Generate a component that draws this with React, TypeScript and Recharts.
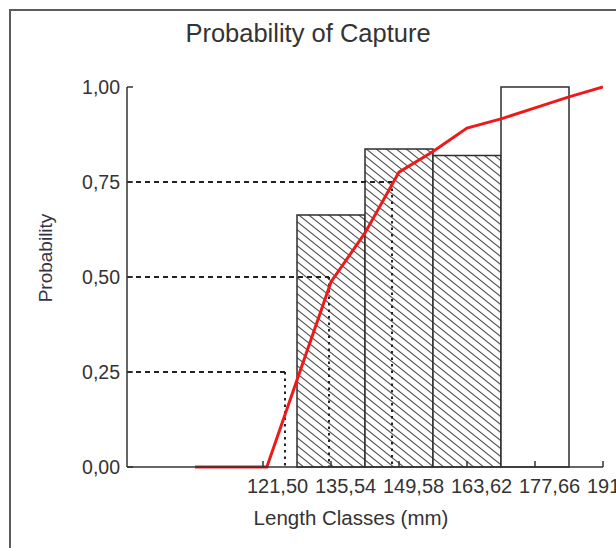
import React from 'react';
import { ComposedChart, XAxis, YAxis, Line, ReferenceArea, ReferenceLine, Label } from 'recharts';

// ---- data ----
const lengthTicks = [121.5, 135.54, 149.58, 163.62, 177.66, 191.7];
const lengthTickLabels = ['121,50', '135,54', '149,58', '163,62', '177,66', '191,70'];
const probTicks = [0, 0.25, 0.5, 0.75, 1];
const probTickLabels = ['0,00', '0,25', '0,50', '0,75', '1,00'];

const classLower = [128.52, 142.56, 156.6, 170.64];
const classUpper = [142.56, 156.6, 170.64, 184.68];
const classProb = [0.663, 0.837, 0.82, 1.0];
const classHatched = [true, true, true, false];

const curveLength = [107.46, 122.3, 128.52, 135.54, 142.56, 149.58, 156.6, 163.62, 170.64, 177.66, 184.68, 191.7];
const curveProb = [0, 0, 0.229, 0.487, 0.616, 0.776, 0.83, 0.892, 0.916, 0.945, 0.974, 1.0];

const percentileProb = [0.25, 0.5, 0.75];
const percentileLength = [126.04, 135.13, 148.14];

const xDomain: [number, number] = [93.42, 191.7];

const curveData = curveLength.map((x, i) => ({ x, p: curveProb[i] }));

const FONT = '"Liberation Sans", Arial, sans-serif';
const INK = '#333333';

const XTick = (props: any) => {
  const { x, y, index, payload } = props;
  let i = typeof index === 'number' ? index : lengthTicks.indexOf(payload.value);
  const label = lengthTickLabels[i] ?? String(payload.value);
  return (
    <g>
      <line x1={x} y1={y} x2={x} y2={y - 6} stroke={INK} strokeWidth={1.5} />
      <text x={x - 16} y={y + 26} textAnchor="start" fontSize={20} fill={INK} fontFamily={FONT}>
        {label}
      </text>
    </g>
  );
};

const YTick = (props: any) => {
  const { x, y, index, payload } = props;
  let i = typeof index === 'number' ? index : probTicks.indexOf(payload.value);
  const label = probTickLabels[i] ?? String(payload.value);
  return (
    <g>
      <line x1={x} y1={y} x2={x + 6} y2={y} stroke={INK} strokeWidth={1.5} />
      <text x={x - 7} y={y} dy="0.36em" textAnchor="end" fontSize={19.5} fill={INK} fontFamily={FONT}>
        {label}
      </text>
    </g>
  );
};

const YTitle = () => (
  <g>
    <text
      x={45}
      y={258}
      dy="0.35em"
      transform="rotate(-90, 45, 258)"
      textAnchor="middle"
      fontSize={19}
      fill="#333344"
      fontFamily={FONT}
    >
      Probability
    </text>
    <text x={308} y={42} textAnchor="middle" fontSize={25.5} fill={INK} fontFamily={FONT}>
      Probability of Capture
    </text>
  </g>
);

const XTitle = () => (
  <text x={351} y={525} textAnchor="middle" fontSize={20.5} fill={INK} fontFamily={FONT}>
    Length Classes (mm)
  </text>
);

export default function App() {
  return (
    <div
      style={{
        position: 'absolute',
        left: 0,
        top: 0,
        width: 616,
        height: 548,
        overflow: 'hidden',
        background: '#ffffff',
      }}
    >
      <div
        style={{
          position: 'absolute',
          left: 9,
          top: 9,
          width: 800,
          height: 800,
          borderLeft: '2px solid #5c5c5c',
          borderTop: '2px solid #5c5c5c',
        }}
      />
      <div style={{ position: 'absolute', left: 0, top: 0 }}>
        <ComposedChart
          width={616}
          height={548}
          data={curveData}
          margin={{ top: 87, right: 13, bottom: 21, left: 0 }}
        >
          <defs>
            <pattern id="hatch" patternUnits="userSpaceOnUse" width="10" height="8">
              <rect width="10" height="8" fill="#ffffff" />
              <path
                d="M-1,-0.8 L11,8.8 M-1,7.2 L1,8.8 M9,-0.8 L11,0.8"
                stroke="#555555"
                strokeWidth={1.1}
              />
            </pattern>
          </defs>
          <XAxis
            type="number"
            dataKey="x"
            domain={xDomain}
            ticks={lengthTicks}
            interval={0}
            tickSize={0}
            tickMargin={0}
            tickLine={false}
            tick={<XTick />}
            axisLine={{ stroke: INK, strokeWidth: 1.5 }}
            height={60}
            allowDataOverflow
          >
            <Label content={<XTitle />} />
          </XAxis>
          <YAxis
            type="number"
            domain={[0, 1]}
            ticks={probTicks}
            interval={0}
            tickSize={0}
            tickMargin={0}
            tickLine={false}
            tick={<YTick />}
            axisLine={{ stroke: INK, strokeWidth: 1.5 }}
            width={127}
          >
            <Label content={<YTitle />} />
          </YAxis>
          {classLower.map((lo, i) => (
            <ReferenceArea
              key={'bar' + i}
              x1={lo}
              x2={classUpper[i]}
              y1={0}
              y2={classProb[i]}
              fill={classHatched[i] ? 'url(#hatch)' : '#ffffff'}
              fillOpacity={1}
              stroke="#2e2e2e"
              strokeWidth={1.5}
              ifOverflow="extendDomain"
            />
          ))}
          {percentileProb.map((p, i) => (
            <ReferenceLine
              key={'h' + i}
              segment={[
                { x: xDomain[0], y: p },
                { x: percentileLength[i], y: p },
              ]}
              stroke="#222222"
              strokeWidth={1.8}
              strokeDasharray="5 4"
            />
          ))}
          {percentileProb.map((p, i) => (
            <ReferenceLine
              key={'v' + i}
              segment={[
                { x: percentileLength[i], y: p },
                { x: percentileLength[i], y: 0 },
              ]}
              stroke="#222222"
              strokeWidth={2}
              strokeDasharray="2.5 4"
            />
          ))}
          <Line
            type="linear"
            dataKey="p"
            stroke="#ee1a1a"
            strokeWidth={3}
            dot={false}
            activeDot={false}
            isAnimationActive={false}
          />
        </ComposedChart>
      </div>
    </div>
  );
}
